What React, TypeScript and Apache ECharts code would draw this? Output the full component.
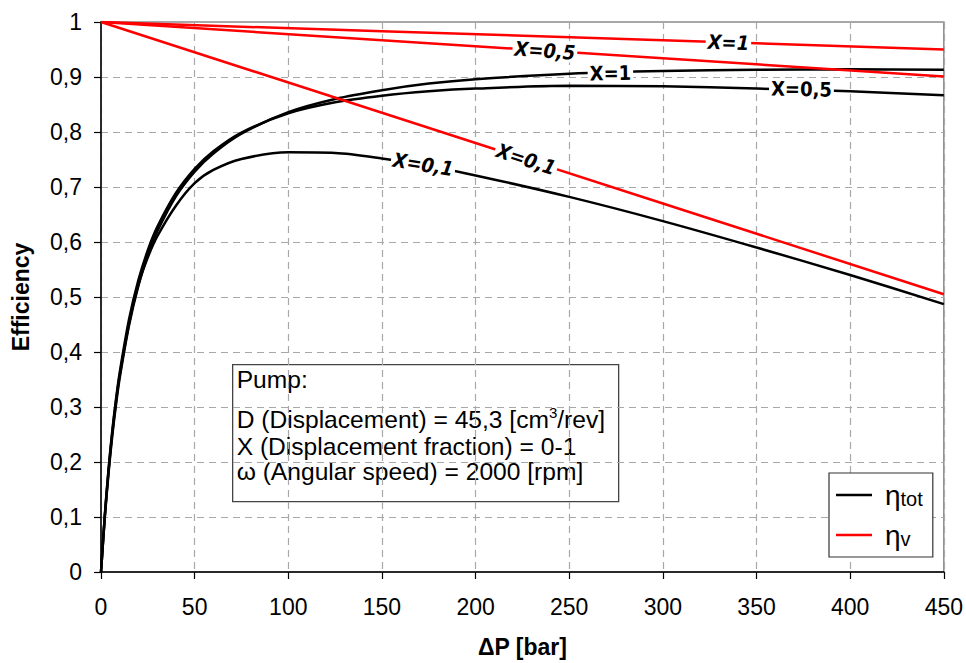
import React, { useEffect, useRef } from "react";
import * as echarts from "echarts";

// ΔP [bar] sample points for the total-efficiency curves
const pressure = [0, 2, 4, 6, 8, 10, 15, 20, 25, 30, 40, 50, 60, 75, 100, 125, 150, 175, 200, 250, 300, 350, 400, 450];
const etaTotX1 = [0, 0.098, 0.179, 0.247, 0.304, 0.353, 0.449, 0.521, 0.576, 0.619, 0.683, 0.728, 0.761, 0.797, 0.836, 0.86, 0.876, 0.888, 0.896, 0.906, 0.911, 0.913, 0.914, 0.913];
const etaTotX05 = [0, 0.102, 0.186, 0.256, 0.314, 0.363, 0.46, 0.531, 0.585, 0.627, 0.689, 0.733, 0.765, 0.799, 0.834, 0.854, 0.866, 0.874, 0.879, 0.884, 0.883, 0.879, 0.874, 0.867];
const etaTotX01 = [0, 0.1, 0.183, 0.252, 0.31, 0.358, 0.452, 0.523, 0.572, 0.61, 0.666, 0.707, 0.731, 0.751, 0.763, 0.762, 0.752, 0.738, 0.721, 0.682, 0.638, 0.59, 0.54, 0.487];

// volumetric efficiency (straight lines)
const pressureV = [0, 150, 300, 450];
const etaVX1 = [1, 0.983, 0.967, 0.95];
const etaVX05 = [1, 0.967, 0.934, 0.901];
const etaVX01 = [1, 0.835, 0.67, 0.505];

// curve labels
const labelTexts = ["X=1", "X=0,5", "X=0,1", "X=1", "X=0,5", "X=0,1"];
const labelX = [335, 237, 227, 272, 374, 172];
const labelY = [0.9628, 0.9479, 0.7503, 0.907, 0.878, 0.741];
const labelRotate = [-2, -4, -18, 1, -1, -9];
const labelItalic = [true, true, true, false, false, true];

const xTicks = { min: 0, max: 450, interval: 50 };
const yTicks = { min: 0, max: 1, interval: 0.1 };

const infoLines = [
  "Pump:",
  "{n|D (Displacement) = 45,3 [cm}{s|3}{n|/rev]}",
  "X (Displacement fraction) = 0-1",
  "ω (Angular speed) = 2000 [rpm]",
];

const FONT = "'Liberation Sans', Arial, sans-serif";
const NARROW = "'Liberation Sans Narrow', 'DejaVu Sans Condensed', 'Liberation Sans', sans-serif";

function zip(xs: number[], ys: number[]) {
  return xs.map((x, i) => [x, ys[i]]);
}

export default function App() {
  const ref = useRef<HTMLDivElement>(null);
  useEffect(() => {
    if (!ref.current) return;
    const chart = echarts.init(ref.current, null, { renderer: "svg" });
    const lineCommon = {
      type: "line" as const,
      showSymbol: false,
      symbol: "none",
      smooth: 0.3,
      z: 3,
    };
    const black = { color: "#000", width: 2.5 };
    const red = { color: "#ff0000", width: 2.5 };
    const option: any = {
      animation: false,
      backgroundColor: "#fff",
      textStyle: { fontFamily: FONT },
      grid: {
        left: 101,
        right: 21,
        top: 22,
        bottom: 91,
        show: true,
        borderColor: "#8a8a8a",
        borderWidth: 1.5,
        backgroundColor: "transparent",
      },
      legend: {
        left: 829,
        top: 473,
        orient: "vertical",
        padding: [8, 10, 8, 7],
        itemWidth: 36,
        itemHeight: 2.5,
        icon: "rect",
        itemGap: 12,
        selectedMode: false,
        backgroundColor: "#fff",
        borderColor: "#333",
        borderWidth: 1.2,
        data: ["tot", "v"],
        formatter: (name: string) => (name === "tot" ? "{e|η}{s|tot}" : "{e|η}{s|v}"),
        textStyle: {
          color: "#000",
          fontFamily: FONT,
          rich: {
            e: { fontSize: 28, lineHeight: 28, padding: [0, 0, 0, 8], fontFamily: FONT, color: "#000" },
            s: { fontSize: 20, lineHeight: 20, verticalAlign: "bottom", fontFamily: FONT, color: "#000" },
          },
        },
      },
      xAxis: {
        type: "value",
        ...xTicks,
        name: "ΔP [bar]",
        nameLocation: "middle",
        nameGap: 63,
        nameTextStyle: { fontSize: 23, fontWeight: "bold", color: "#000", fontFamily: FONT },
        axisLine: { show: true, onZero: false, lineStyle: { color: "#000", width: 1.5 } },
        axisTick: { show: true, length: 7, lineStyle: { color: "#000", width: 1.2 } },
        axisLabel: { fontSize: 23, color: "#000", margin: 23, fontFamily: FONT },
        splitLine: { show: true, lineStyle: { color: "#a8a8a8", type: [7, 5], width: 1.2 } },
      },
      yAxis: {
        type: "value",
        ...yTicks,
        name: "Efficiency",
        nameLocation: "middle",
        nameRotate: 90,
        nameGap: 69,
        nameTextStyle: { fontSize: 23, fontWeight: "bold", color: "#000", fontFamily: FONT },
        axisLine: { show: true, onZero: false, lineStyle: { color: "#000", width: 1.5 } },
        axisTick: { show: true, length: 7, lineStyle: { color: "#000", width: 1.2 } },
        axisLabel: {
          fontSize: 23,
          color: "#000",
          margin: 19,
          fontFamily: FONT,
          formatter: (v: number) => String(Math.round(v * 10) / 10).replace(".", ","),
        },
        splitLine: { show: true, lineStyle: { color: "#a8a8a8", type: [7, 5], width: 1.2 } },
      },
      series: [
        { ...lineCommon, name: "tot", data: zip(pressure, etaTotX1), lineStyle: black, itemStyle: { color: "#000" } },
        { ...lineCommon, name: "tot", data: zip(pressure, etaTotX05), lineStyle: black, itemStyle: { color: "#000" } },
        { ...lineCommon, name: "tot", data: zip(pressure, etaTotX01), lineStyle: black, itemStyle: { color: "#000" } },
        { ...lineCommon, name: "v", smooth: false, data: zip(pressureV, etaVX1), lineStyle: red, itemStyle: { color: "#ff0000" } },
        { ...lineCommon, name: "v", smooth: false, data: zip(pressureV, etaVX05), lineStyle: red, itemStyle: { color: "#ff0000" } },
        { ...lineCommon, name: "v", smooth: false, data: zip(pressureV, etaVX01), lineStyle: red, itemStyle: { color: "#ff0000" } },
        {
          type: "scatter",
          name: "labels",
          symbolSize: 0,
          z: 10,
          silent: true,
          itemStyle: { opacity: 1, color: "#000" },
          data: labelTexts.map((t, i) => ({
            value: [labelX[i], labelY[i]],
            label: {
              show: true,
              position: "inside",
              formatter: t,
              rotate: labelRotate[i],
              fontStyle: labelItalic[i] ? "italic" : "normal",
              fontSize: 20,
              fontWeight: "bold",
              fontFamily: NARROW,
              color: "#000",
              opacity: 1,
              textBorderWidth: 0,
              textBorderColor: "transparent",
              backgroundColor: "#fff",
              padding: [0, 2, 0, 2],
            },
          })),
        },
      ],
      graphic: [
        {
          type: "group",
          left: 232,
          top: 364,
          children: [
            {
              type: "rect",
              shape: { x: 0, y: 0, width: 386, height: 137 },
              style: { fill: "#fff", stroke: "#444", lineWidth: 1.3 },
            },
            ...infoLines.map((t, i) => ({
              type: "text",
              x: 4,
              y: [15, 55, 82, 107][i],
              style: {
                text: t,
                fontSize: 24.6,
                fontFamily: FONT,
                fill: "#000",
                verticalAlign: "middle",
                rich: {
                  n: { fontSize: 24.6, lineHeight: 30, fontFamily: FONT, fill: "#000" },
                  s: { fontSize: 15, lineHeight: 16, verticalAlign: "top", fontFamily: FONT, fill: "#000" },
                },
              },
            })),
          ],
        },
      ],
    };
    chart.setOption(option);
    return () => chart.dispose();
  }, []);
  return (
    <div
      ref={ref}
      style={{ position: "fixed", left: 0, top: 0, width: 966, height: 663, background: "#fff" }}
    />
  );
}
